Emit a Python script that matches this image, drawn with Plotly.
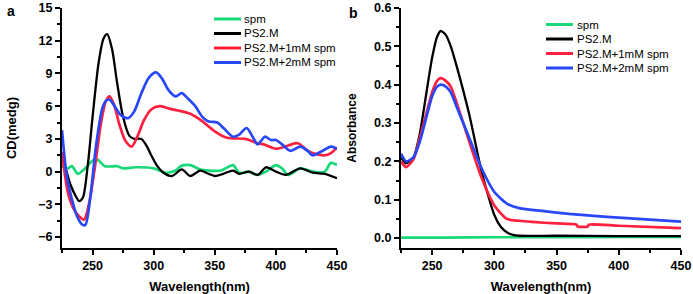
import plotly.graph_objects as go

# ---- Panel a: CD spectra ----
cd_spm_x = [225, 230, 233, 238, 243, 250, 254, 260, 270, 275, 285, 300, 310, 318, 322, 330, 338, 345, 355, 365, 370, 378, 385, 392, 400, 405, 410, 420, 430, 440, 445, 450]
cd_spm_y = [0.5, 0.3, 0.5, -0.2, 0.2, 1.0, 1.1, 0.5, 0.5, 0.3, 0.4, 0.3, -0.1, 0.1, 0.5, 0.6, 0.2, 0.1, 0.1, 0.6, -0.1, 0.0, -0.3, 0.0, 0.6, 0.3, -0.3, 0.3, 0.0, 0.0, 0.8, 0.6]

cd_ps2m_x = [225, 232, 236, 239, 242, 246, 250, 255, 259, 262, 266, 270, 275, 280, 284, 290, 294, 298, 303, 308, 315, 323, 330, 338, 345, 350, 357, 365, 370, 378, 385, 392, 400, 408, 420, 430, 440, 450]
cd_ps2m_y = [1.5, -1.2, -2.2, -2.7, -2.4, 0.5, 5.0, 10.0, 12.2, 12.6, 11.2, 8.2, 5.0, 3.3, 3.0, 3.0, 2.4, 1.5, 0.5, -0.1, -0.4, 0.2, -0.4, 0.1, -0.2, -0.4, -0.2, 0.1, -0.2, 0.0, -0.3, 0.4, 0.0, -0.3, 0.3, -0.1, -0.2, -0.6]

cd_1mm_x = [225, 230, 235, 240, 243, 247, 252, 257, 261, 264, 268, 272, 277, 282, 287, 292, 298, 305, 312, 320, 330, 340, 350, 360, 375, 385, 390, 400, 410, 418, 425, 430, 440, 445, 450]
cd_1mm_y = [1.8, -2.0, -3.5, -4.2, -4.4, -3.0, 0.5, 4.5, 6.5, 6.9, 6.0, 4.3, 2.8, 2.3, 3.3, 4.7, 5.7, 6.0, 5.8, 5.6, 5.3, 4.6, 3.7, 3.1, 3.0, 2.6, 2.5, 2.1, 2.4, 2.6, 2.0, 1.7, 1.5, 1.7, 2.2]

cd_2mm_x = [225, 229, 233, 237, 241, 244, 248, 253, 258, 261, 264, 268, 273, 279, 284, 290, 296, 302, 307, 312, 318, 323, 328, 334, 340, 345, 352, 358, 365, 370, 376, 381, 385, 391, 396, 400, 405, 412, 420, 426, 430, 438, 445, 450]
cd_2mm_y = [3.8, -0.5, -2.5, -4.0, -4.8, -4.9, -2.5, 2.5, 5.8, 6.5, 6.6, 6.0, 5.2, 4.9, 5.5, 7.2, 8.6, 9.1, 8.5, 7.5, 6.9, 7.2, 6.7, 6.0, 5.0, 4.6, 4.5, 3.9, 3.2, 3.4, 4.0, 3.2, 2.5, 3.2, 2.9, 2.9, 2.5, 1.9, 2.3, 1.9, 1.5, 1.9, 2.3, 2.1]

# ---- Panel b: absorbance spectra ----
ab_spm_x = [225, 260, 300, 350, 400, 450]
ab_spm_y = [0.001, 0.001, 0.002, 0.002, 0.003, 0.003]

ab_ps2m_x = [225, 229, 235, 240, 245, 250, 254, 257, 261, 265, 270, 280, 290, 300, 305, 310, 315, 320, 350, 400, 450]
ab_ps2m_y = [0.21, 0.195, 0.21, 0.27, 0.37, 0.47, 0.525, 0.54, 0.53, 0.50, 0.445, 0.32, 0.17, 0.06, 0.03, 0.015, 0.008, 0.006, 0.006, 0.005, 0.005]

ab_1mm_x = [225, 229, 235, 240, 245, 250, 254, 257, 261, 265, 270, 280, 290, 300, 310, 320, 330, 350, 366, 367, 375, 376, 400, 450]
ab_1mm_y = [0.20, 0.185, 0.205, 0.26, 0.32, 0.38, 0.41, 0.417, 0.41, 0.395, 0.35, 0.25, 0.155, 0.085, 0.05, 0.045, 0.042, 0.038, 0.035, 0.03, 0.03, 0.035, 0.032, 0.026]

ab_2mm_x = [225, 229, 235, 240, 245, 250, 254, 257, 261, 265, 270, 280, 290, 300, 310, 320, 340, 360, 380, 400, 450]
ab_2mm_y = [0.22, 0.20, 0.21, 0.25, 0.31, 0.37, 0.395, 0.40, 0.395, 0.38, 0.34, 0.26, 0.18, 0.12, 0.09, 0.078, 0.07, 0.063, 0.058, 0.053, 0.043]

names = ["spm", "PS2.M", "PS2.M+1mM spm", "PS2.M+2mM spm"]
colors = ["#18d878", "#000000", "#ff2040", "#2848f8"]
widths = [2.7, 2.3, 2.7, 2.7]

W, H = 693, 294
fig = go.Figure()
cd_sets = [(cd_spm_x, cd_spm_y), (cd_ps2m_x, cd_ps2m_y), (cd_1mm_x, cd_1mm_y), (cd_2mm_x, cd_2mm_y)]
ab_sets = [(ab_spm_x, ab_spm_y), (ab_ps2m_x, ab_ps2m_y), (ab_1mm_x, ab_1mm_y), (ab_2mm_x, ab_2mm_y)]
for i, (xs, ys) in enumerate(cd_sets):
    fig.add_trace(go.Scatter(x=xs, y=ys, mode="lines", name=names[i], showlegend=False,
                             line=dict(color=colors[i], width=widths[i], shape="spline", smoothing=0.8),
                             xaxis="x", yaxis="y"))
for i, (xs, ys) in enumerate(ab_sets):
    fig.add_trace(go.Scatter(x=xs, y=ys, mode="lines", name=names[i], showlegend=False,
                             line=dict(color=colors[i], width=widths[i], shape="spline", smoothing=0.6),
                             xaxis="x2", yaxis="y2"))

font = "Liberation Sans, Arial, sans-serif"
tickfont = dict(family=font, size=12.5, color="black", weight="bold")
titlefont = dict(family=font, size=13, color="black", weight="bold")
axcommon = dict(showline=True, linecolor="black", linewidth=2, ticks="outside", ticklen=5,
                tickwidth=2, tickcolor="black", showgrid=False, zeroline=False, tickfont=tickfont,
                automargin=False, ticklabeloverflow="allow")

# manual legends (lines + labels), positioned in pixels
shapes, annotations = [], []
def add_legend(x0, x1, xt, ys):
    for i, yp in enumerate(ys):
        shapes.append(dict(type="line", xref="paper", yref="paper",
                           x0=x0 / W, x1=x1 / W, y0=1 - yp / H, y1=1 - yp / H,
                           line=dict(color=colors[i], width=3)))
        annotations.append(dict(text=names[i], x=xt / W, y=1 - yp / H, xref="paper", yref="paper",
                                xanchor="left", yanchor="middle", showarrow=False,
                                font=dict(family=font, size=11.5, color="black")))
add_legend(214, 241, 242, [19, 33.5, 48, 62.5])
add_legend(546, 573, 575, [24.5, 39, 53.5, 68])

annotations += [
    dict(text="a", x=5 / W, y=1 - 1 / H, xref="paper", yref="paper", xanchor="left", yanchor="top",
         showarrow=False, font=dict(family=font, size=14, color="black", weight="bold")),
    dict(text="b", x=347 / W, y=1 - 3 / H, xref="paper", yref="paper", xanchor="left", yanchor="top",
         showarrow=False, font=dict(family=font, size=14, color="black", weight="bold")),
]

fig.update_layout(
    width=W, height=H, margin=dict(l=0, r=0, t=0, b=0, autoexpand=False),
    paper_bgcolor="white", plot_bgcolor="white", showlegend=False,
    xaxis=dict(domain=[62 / W, 337 / W], range=[225, 450], dtick=50, tick0=250,
               minor=dict(ticks="outside", ticklen=3, dtick=25, tick0=225, tickcolor="black", tickwidth=1.5),
               title=dict(text="Wavelength(nm)", font=titlefont, standoff=13),
               anchor="y", **axcommon),
    yaxis=dict(domain=[1 - 248 / H, 1 - 8 / H], range=[-7, 15], dtick=3, tick0=0,
               minor=dict(ticks="outside", ticklen=3, dtick=1.5, tick0=0, tickcolor="black", tickwidth=1.5),
               title=dict(text="CD(medg)", font=titlefont, standoff=19),
               anchor="x", **axcommon),
    xaxis2=dict(domain=[401 / W, 681 / W], range=[225, 450], dtick=50, tick0=250,
                minor=dict(ticks="outside", ticklen=3, dtick=25, tick0=225, tickcolor="black", tickwidth=1.5),
                title=dict(text="Wavelength(nm)", font=titlefont, standoff=13),
                anchor="y2", **axcommon),
    yaxis2=dict(domain=[1 - 248 / H, 1 - 8 / H], range=[-0.026, 0.6], dtick=0.1, tick0=0, tickformat=".1f",
                minor=dict(ticks="outside", ticklen=3, dtick=0.05, tick0=0, tickcolor="black", tickwidth=1.5),
                title=dict(text="Absorbance", font=dict(family=font, size=12, color="black", weight="bold"), standoff=15),
                anchor="x2", **axcommon),
    shapes=shapes,
    annotations=annotations,
)

fig.write_html("out.html", config={"displayModeBar": False},
               post_script="document.body.style.margin='0';document.body.style.overflow='hidden';")
